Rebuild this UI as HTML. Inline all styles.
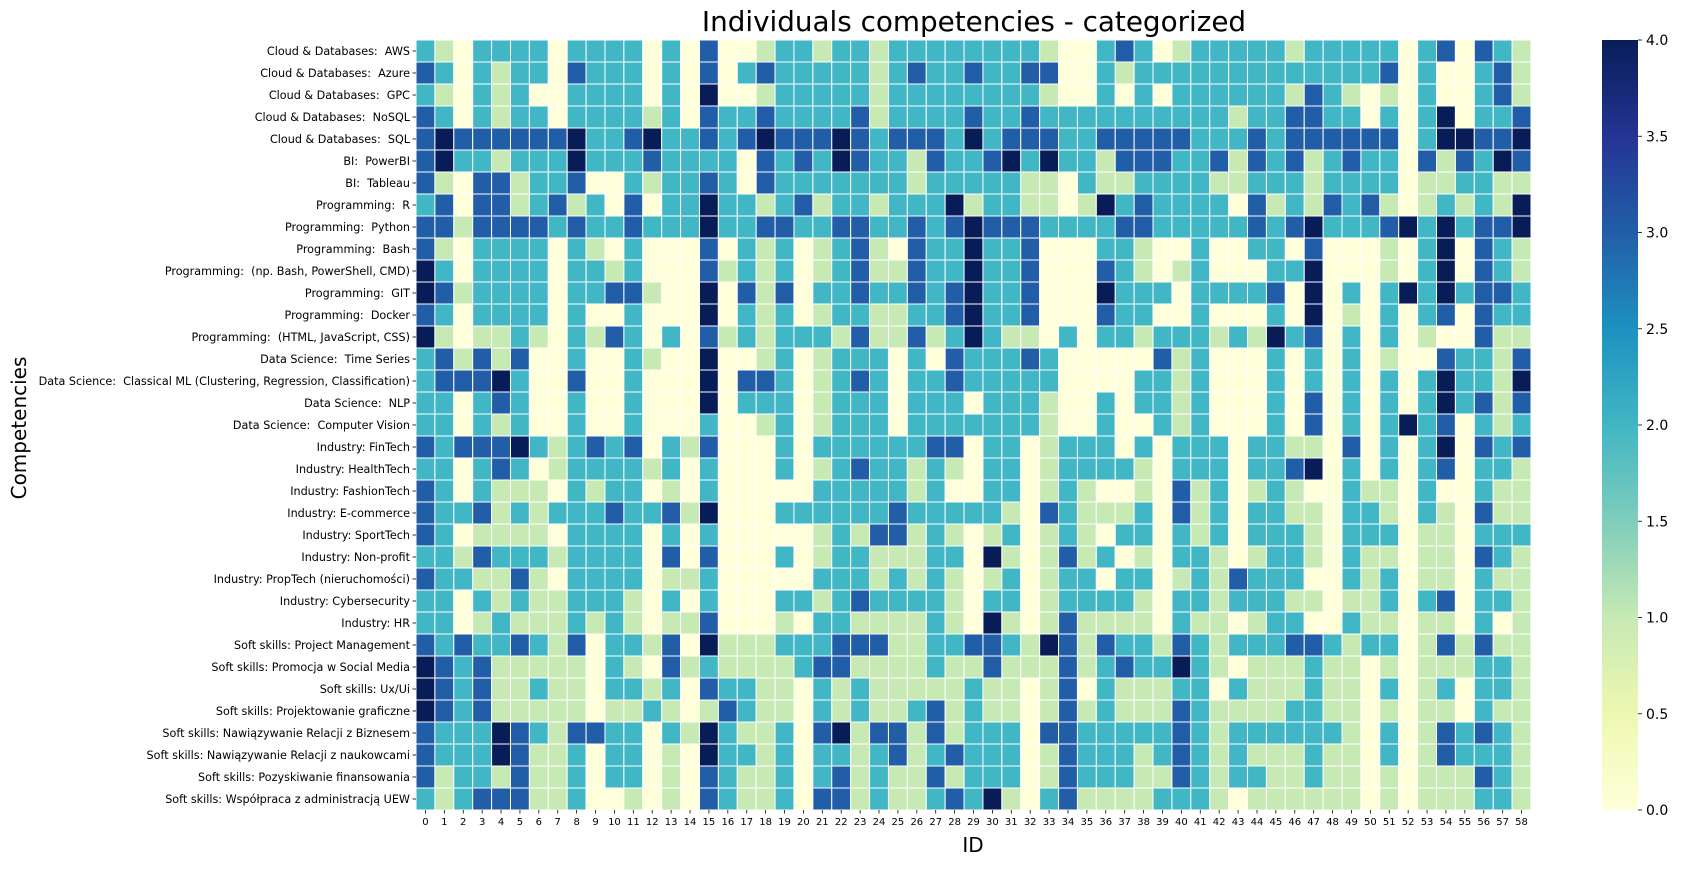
<!DOCTYPE html>
<html><head><meta charset="utf-8"><style>
html,body{margin:0;padding:0;background:#fff;}
svg text{font-family:"DejaVu Sans","Liberation Sans",sans-serif;fill:#000;}
</style></head><body>
<svg id="chart" width="1681" height="865" xmlns="http://www.w3.org/2000/svg">
<text x="974" y="31" font-size="27.8" text-anchor="middle">Individuals competencies - categorized</text>
<text transform="translate(26,428) rotate(-90)" font-size="20" text-anchor="middle">Competencies</text>
<text x="973" y="852" font-size="20" text-anchor="middle">ID</text>
<g id="cells"></g>
<g id="yticks"></g>
<g id="xticks"></g>
<defs><linearGradient id="cbg" x1="0" y1="1" x2="0" y2="0">
<stop offset="0" stop-color="#ffffd9"/><stop offset="0.125" stop-color="#edf8b1"/><stop offset="0.25" stop-color="#c7e9b4"/><stop offset="0.375" stop-color="#7fcdbb"/><stop offset="0.5" stop-color="#41b6c4"/><stop offset="0.625" stop-color="#1d91c0"/><stop offset="0.75" stop-color="#225ea8"/><stop offset="0.875" stop-color="#253494"/><stop offset="1" stop-color="#081d58"/></linearGradient></defs>
<rect x="1602" y="40" width="36" height="770" fill="url(#cbg)"/>
<g id="cbticks"></g>
</svg>
<script>
const rowLabels = ["Cloud & Databases:  AWS","Cloud & Databases:  Azure","Cloud & Databases:  GPC","Cloud & Databases:  NoSQL","Cloud & Databases:  SQL","BI:  PowerBI","BI:  Tableau","Programming:  R","Programming:  Python","Programming:  Bash","Programming:  (np. Bash, PowerShell, CMD)","Programming:  GIT","Programming:  Docker","Programming:  (HTML, JavaScript, CSS)","Data Science:  Time Series","Data Science:  Classical ML (Clustering, Regression, Classification)","Data Science:  NLP","Data Science:  Computer Vision","Industry: FinTech","Industry: HealthTech","Industry: FashionTech","Industry: E-commerce","Industry: SportTech","Industry: Non-profit","Industry: PropTech (nieruchomości)","Industry: Cybersecurity","Industry: HR","Soft skills: Project Management","Soft skills: Promocja w Social Media","Soft skills: Ux/Ui","Soft skills: Projektowanie graficzne","Soft skills: Nawiązywanie Relacji z Biznesem","Soft skills: Nawiązywanie Relacji z naukowcami","Soft skills: Pozyskiwanie finansowania","Soft skills: Współpraca z administracją UEW"];
const colLabels = Array.from({length:59},(_,i)=>String(i));
const cbTicks = [0,0.5,1,1.5,2,2.5,3,3.5,4];
const vmin = 0, vmax = 4;
const values = [
[2,1,0,2,2,2,2,0,2,2,2,2,0,2,0,3,0,0,1,2,2,1,2,2,1,2,2,2,2,2,2,2,2,1,0,0,2,3,2,0,1,2,2,2,2,2,1,2,2,2,2,2,0,2,3,0,3,2,1],
[3,2,0,2,1,2,2,0,3,2,2,2,0,2,0,3,0,2,3,2,2,2,2,2,1,2,3,2,2,3,2,2,3,3,0,0,2,1,2,2,2,2,2,2,2,2,2,2,2,2,2,3,0,2,0,0,2,3,1],
[2,1,0,2,1,2,0,0,2,2,2,2,0,2,0,4,0,0,1,2,2,2,2,2,1,2,2,2,2,2,2,2,2,1,0,0,2,0,2,0,2,2,2,2,2,2,1,3,2,1,0,1,0,2,0,0,2,3,1],
[3,2,0,2,1,2,2,0,2,2,2,2,1,2,0,3,2,2,3,2,2,2,2,3,1,2,2,2,2,3,2,2,3,2,2,2,2,2,2,2,2,2,2,1,2,2,3,3,2,2,0,2,0,2,4,0,2,2,3],
[3,4,3,3,3,3,3,3,4,2,2,3,4,2,2,3,2,3,4,3,3,3,4,3,2,3,3,3,2,4,2,3,3,3,2,2,3,3,3,3,3,2,2,2,3,2,3,3,3,3,3,3,0,2,4,4,3,3,4],
[3,4,2,2,1,2,2,2,4,2,2,2,3,2,2,2,2,0,3,2,3,2,4,3,2,2,1,3,2,2,3,4,2,4,2,2,1,3,3,3,2,2,3,1,3,2,3,1,2,3,2,2,0,3,1,3,2,4,3],
[3,1,0,3,3,1,2,2,3,0,0,2,1,2,2,3,2,0,3,2,2,2,2,2,2,2,1,2,2,2,2,2,1,1,0,2,1,1,2,2,2,2,1,1,2,2,2,1,2,2,2,2,0,1,1,2,2,1,1],
[2,3,0,3,3,1,2,3,1,2,0,3,0,2,2,4,2,2,1,2,3,1,2,2,1,2,2,2,4,1,2,2,1,1,0,1,4,2,3,2,2,2,2,0,3,1,2,1,3,2,3,1,0,1,2,1,2,1,4],
[3,3,1,3,3,3,3,2,3,2,2,3,2,2,2,4,2,2,3,3,2,2,3,3,2,2,3,2,3,4,3,3,3,2,2,2,2,3,3,2,2,2,2,2,3,2,3,4,2,2,2,3,4,2,4,2,3,3,4],
[3,1,0,2,2,2,2,0,2,1,0,2,0,0,0,3,0,2,1,2,0,1,2,3,1,0,3,2,2,4,2,2,3,0,0,0,2,2,1,0,0,2,0,0,2,2,0,3,0,0,0,1,0,2,4,0,3,2,1],
[4,2,0,2,2,2,2,0,2,2,1,2,0,0,0,3,1,2,1,2,0,1,2,3,1,1,3,2,2,4,2,2,3,0,0,0,3,2,1,0,1,2,0,0,0,2,2,4,0,0,0,1,0,2,4,0,3,2,1],
[4,3,1,2,2,2,2,0,2,2,3,3,1,0,0,4,0,3,1,3,0,2,2,3,2,2,3,2,3,4,2,2,3,0,0,0,4,2,2,2,0,2,2,2,2,3,0,4,0,2,0,2,4,2,4,2,3,3,2],
[3,2,0,2,2,2,2,0,2,0,0,2,0,0,0,4,0,2,1,2,0,1,2,2,1,1,2,2,3,4,2,2,3,0,0,0,3,2,2,0,0,2,0,0,0,2,0,4,0,1,0,2,0,2,3,0,3,2,2],
[4,1,0,1,1,2,1,0,2,1,3,2,0,2,0,3,1,2,1,2,2,2,1,3,1,1,3,1,2,4,2,1,1,0,2,0,2,2,1,2,2,2,1,2,1,4,2,3,0,2,0,2,0,1,0,0,3,1,1],
[2,3,1,3,1,3,0,0,2,0,0,2,1,0,0,4,0,0,1,2,0,1,2,2,2,0,2,0,3,2,2,2,3,2,0,0,0,0,0,3,1,2,0,0,0,2,0,2,0,2,0,1,0,0,3,2,2,1,3],
[2,3,3,3,4,2,0,0,3,0,0,2,0,0,0,4,0,3,3,2,0,1,2,3,2,0,2,2,3,2,2,2,2,2,0,0,0,0,2,2,1,2,0,0,0,2,0,2,0,2,0,2,0,2,4,2,2,1,4],
[2,2,0,2,3,2,0,0,2,0,0,2,0,0,0,4,0,2,2,2,0,1,2,2,2,0,2,2,2,0,2,2,2,1,0,0,2,0,2,2,1,2,0,0,0,2,0,3,0,2,0,2,0,2,4,2,3,1,3],
[2,2,0,2,1,2,0,0,2,0,0,2,0,0,0,2,0,0,1,2,0,1,2,2,2,0,2,2,2,2,2,2,2,1,0,0,2,0,0,2,1,2,0,0,0,2,0,3,0,2,0,2,4,2,3,0,2,1,2],
[3,2,3,3,3,4,2,1,2,3,2,3,0,2,1,3,0,0,0,2,0,2,2,2,2,2,2,3,3,0,2,2,0,1,2,2,2,0,2,0,2,2,2,0,2,2,1,1,0,3,0,2,0,2,4,0,3,2,3],
[2,2,0,2,3,2,0,1,2,2,2,2,1,2,0,2,0,0,0,2,0,1,2,3,2,2,1,2,1,0,2,2,0,1,2,2,2,2,1,0,2,2,2,0,2,2,3,4,0,2,0,2,0,2,3,0,2,2,1],
[3,2,0,2,1,1,1,0,2,1,2,2,0,1,0,2,0,0,0,0,0,2,2,2,2,2,1,2,0,0,2,2,0,1,2,1,0,0,1,0,3,1,2,0,1,2,1,0,0,2,1,1,0,2,0,0,2,1,1],
[3,2,2,3,1,2,1,2,2,2,3,2,2,3,1,4,0,0,0,2,2,2,2,2,2,3,2,2,2,2,2,1,0,3,2,1,1,1,2,0,3,1,2,0,2,2,1,1,0,2,2,1,0,2,1,0,3,1,1],
[3,2,0,1,1,1,1,0,2,2,2,2,0,2,0,2,0,0,0,0,0,1,2,1,3,3,1,2,1,0,1,2,0,1,2,1,0,2,2,0,2,1,2,0,2,2,2,1,0,2,2,2,0,1,1,0,2,2,2],
[2,2,1,3,2,2,2,1,2,2,2,2,0,3,0,3,0,0,0,2,0,1,2,2,1,1,1,2,2,0,4,1,0,1,3,1,2,0,1,0,2,2,1,0,1,2,2,1,0,2,1,1,0,1,1,0,3,2,1],
[3,2,2,1,1,3,1,0,2,2,2,2,0,1,1,2,0,0,0,0,0,2,2,2,1,2,1,2,1,0,1,2,0,1,2,2,0,2,2,0,1,2,1,3,2,2,2,0,0,2,1,2,0,1,1,0,2,1,1],
[2,2,0,2,1,2,1,1,2,2,2,1,0,2,0,2,0,0,0,2,2,1,2,3,2,2,2,2,1,0,2,2,0,1,2,2,2,2,1,0,2,2,1,2,2,2,1,1,0,1,1,2,0,2,3,0,2,2,1],
[2,2,0,1,2,1,1,1,2,1,2,1,0,1,1,3,0,0,0,1,0,2,2,1,1,1,1,2,1,0,4,1,0,1,3,1,1,1,1,0,2,1,1,0,1,2,2,0,0,2,1,1,0,1,1,0,2,0,1],
[3,2,3,2,2,3,2,1,3,0,2,2,1,3,0,4,1,1,1,2,2,2,3,3,3,1,1,2,2,3,3,2,1,4,3,1,3,2,2,1,3,2,1,2,2,2,3,3,2,1,2,2,0,1,3,1,3,1,1],
[4,3,2,3,1,1,1,1,1,0,2,1,0,3,1,2,1,1,1,1,2,3,3,1,1,1,1,2,1,1,3,1,1,1,3,1,2,3,2,2,4,2,1,0,1,1,1,2,1,1,0,1,0,1,1,1,2,2,1],
[4,3,2,3,1,1,2,1,1,0,2,2,1,2,0,3,2,2,1,1,0,2,1,2,1,1,1,1,1,2,1,1,0,1,3,0,2,1,1,1,2,2,0,2,1,1,1,2,1,1,0,2,0,1,2,0,2,2,1],
[4,3,2,3,1,1,1,1,1,0,1,1,2,1,0,1,3,2,1,1,0,2,1,2,1,1,2,3,1,2,1,1,0,1,3,1,2,1,1,1,3,2,1,1,1,1,2,2,1,1,0,1,0,1,1,0,2,1,1],
[3,2,2,2,4,3,2,1,3,3,2,2,0,2,1,4,2,1,1,2,0,3,4,1,3,3,1,3,1,2,2,2,0,3,3,2,2,2,2,2,3,2,1,2,2,2,2,2,2,1,0,2,0,1,3,2,3,2,1],
[3,2,2,2,4,3,1,1,2,0,2,2,0,1,0,4,2,2,1,2,0,2,2,1,2,3,1,2,3,2,2,2,0,1,3,2,2,2,1,2,3,2,1,2,1,1,1,2,1,1,0,2,0,1,3,2,2,2,1],
[3,1,2,2,1,3,1,1,2,0,2,2,0,1,0,3,2,1,1,2,0,2,3,1,2,1,1,3,1,2,2,2,0,1,3,2,2,2,1,1,3,2,1,2,2,1,1,2,1,1,0,1,0,1,1,1,3,2,1],
[2,1,2,3,3,3,1,1,2,0,0,1,0,1,0,3,2,1,1,2,0,3,3,1,2,1,1,2,3,2,4,1,0,2,3,1,1,1,1,2,2,2,1,0,1,1,1,1,1,1,0,1,0,1,1,1,2,2,1]
];
const stops = ["#ffffd9","#edf8b1","#c7e9b4","#7fcdbb","#41b6c4","#1d91c0","#225ea8","#253494","#081d58"];
const NS = "http://www.w3.org/2000/svg";
const X0 = 416, X1 = 1531, Y0 = 40, Y1 = 810;
const cw = (X1 - X0) / colLabels.length, ch = (Y1 - Y0) / rowLabels.length;
function xPos(c){ return X0 + c * cw; }
function yPos(r){ return Y0 + r * ch; }
function cbY(v){ return Y1 - (v - vmin) / (vmax - vmin) * (Y1 - Y0); }
function hex(h){ return [1,3,5].map(i=>parseInt(h.substr(i,2),16)); }
function color(v){
  let t = Math.max(0, Math.min(1, (v - vmin) / (vmax - vmin))) * (stops.length - 1);
  let i = Math.min(Math.floor(t), stops.length - 2), f = t - i;
  let a = hex(stops[i]), b = hex(stops[i+1]);
  return "rgb(" + a.map((x,k)=>Math.round(x + (b[k]-x)*f)).join(",") + ")";
}
function mk(tag, attrs, parent){
  const e = document.createElementNS(NS, tag);
  for (const k in attrs) e.setAttribute(k, attrs[k]);
  parent.appendChild(e);
  return e;
}
const gC = document.getElementById("cells");
values.forEach((row, r) => {
  row.forEach((v, c) => {
    const rc = mk("rect", {x: xPos(c), y: yPos(r), width: cw, height: ch, fill: color(v), stroke: "#fff", "stroke-width": 1}, gC);
    
    
  });
});
const gY = document.getElementById("yticks");
rowLabels.forEach((lab, r) => {
  const yc = yPos(r) + ch / 2;
  const tk = mk("line", {x1: X0 - 3.5, x2: X0, y1: yc, y2: yc, stroke: "#000", "stroke-width": 0.8}, gY);
  
  
  const t = mk("text", {x: X0 - 6, y: yc + 4, "font-size": 11.2, "text-anchor": "end", style: "white-space:pre"}, gY);
  t.textContent = lab;
  
  
});
const gX = document.getElementById("xticks");
colLabels.forEach((lab, c) => {
  const xc = xPos(c) + cw / 2;
  const tk = mk("line", {x1: xc, x2: xc, y1: Y1, y2: Y1 + 3.5, stroke: "#000", "stroke-width": 0.8}, gX);
  
  
  const t = mk("text", {x: xc, y: Y1 + 15, "font-size": 10, "text-anchor": "middle"}, gX);
  t.textContent = lab;
  
  
});
const gB = document.getElementById("cbticks");
cbTicks.forEach(v => {
  const y = cbY(v);
  const tk = mk("line", {x1: 1638, x2: 1642, y1: y, y2: y, stroke: "#000", "stroke-width": 0.8}, gB);
  
  
  const t = mk("text", {x: 1646, y: y + 5, "font-size": 14}, gB);
  t.textContent = v.toFixed(1);
  
  
});
</script>
</body></html>
